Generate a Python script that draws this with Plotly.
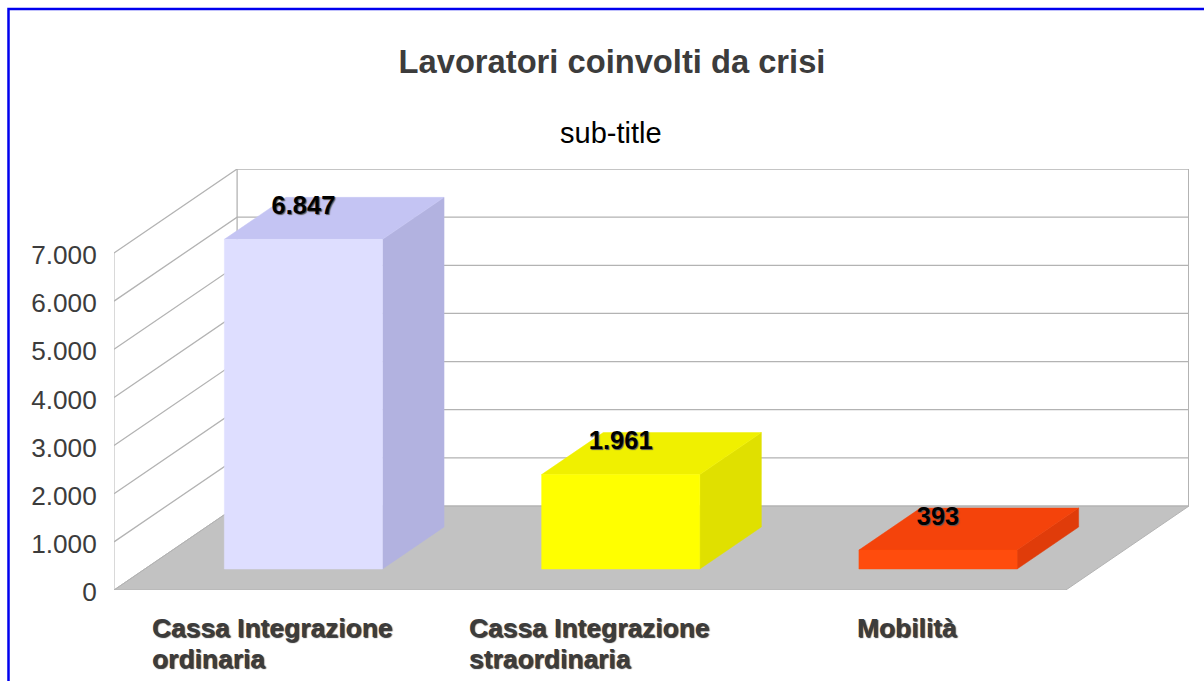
import plotly.graph_objects as go

# data
categories = [["Cassa Integrazione", "ordinaria"], ["Cassa Integrazione", "straordinaria"], ["Mobilità"]]
values = [6847, 1961, 393]
value_labels = ["6.847", "1.961", "393"]
y_ticks = [0, 1000, 2000, 3000, 4000, 5000, 6000, 7000]
title = "Lavoratori coinvolti da crisi"
subtitle = "sub-title"

front_colors = ["#dedeff", "#ffff00", "#ff4c0d"]
top_colors = ["#c4c4f3", "#f0f000", "#f4430b"]
side_colors = ["#b2b2e0", "#e0e000", "#e03c0a"]

# page geometry (pixels)
W, H = 1204, 681
L, R, T, B = 114, 1189, 169, 590
PX_PER_UNIT_Y = (589 - 252) / 7000
BAND_PX = 317
DEPTH_X = 123 / BAND_PX          # oblique shift in x units
DEPTH_Y = 84 / PX_PER_UNIT_Y     # oblique shift in y units
BAR_W = 158 / BAND_PX
N = len(values)
GRID = "#b3b3b3"
TEXT = "#3c3c3c"
FONT = "Liberation Sans"

fig = go.Figure()


def poly(xs, ys, fill, line=None, width=1):
    fig.add_trace(go.Scatter(
        x=list(xs) + [xs[0]], y=list(ys) + [ys[0]], mode="lines", fill="toself",
        fillcolor=fill, line=dict(color=line or fill, width=width),
        hoverinfo="skip", showlegend=False, cliponaxis=False))


def path(xs, ys, width=1.2):
    fig.add_trace(go.Scatter(
        x=xs, y=ys, mode="lines", line=dict(color=GRID, width=width),
        hoverinfo="skip", showlegend=False, cliponaxis=False))


top_v = y_ticks[-1]
# floor
poly([0, N, N + DEPTH_X, DEPTH_X], [0, 0, DEPTH_Y, DEPTH_Y], "#c2c2c2", GRID, 1)
# grid lines on the two walls
for v in y_ticks:
    path([0, DEPTH_X, N + DEPTH_X], [v, v + DEPTH_Y, v + DEPTH_Y], 1.3 if v else 1)
path([0, 0], [0, top_v], 1)
path([DEPTH_X, DEPTH_X], [DEPTH_Y, top_v + DEPTH_Y], 1.3)
path([N + DEPTH_X, N + DEPTH_X], [DEPTH_Y, top_v + DEPTH_Y], 2)

# bars
for i, v in enumerate(values):
    x0 = i + 0.5 - BAR_W / 2 + DEPTH_X / 4
    x1 = x0 + BAR_W
    y0 = DEPTH_Y / 4
    y1 = y0 + v
    dx, dy = DEPTH_X / 2, DEPTH_Y / 2
    poly([x1, x1 + dx, x1 + dx, x1], [y0, y0 + dy, y1 + dy, y1], side_colors[i], width=0.5)
    poly([x0, x1, x1 + dx, x0 + dx], [y1, y1, y1 + dy, y1 + dy], top_colors[i], width=0.5)
    poly([x0, x1, x1, x0], [y0, y0, y1, y1], front_colors[i], width=0.5)

# value labels
fig.add_trace(go.Scatter(
    x=[i + 0.5 + DEPTH_X / 4 for i in range(N)],
    y=[v + DEPTH_Y / 4 + 31.5 / PX_PER_UNIT_Y for v in values],
    mode="text", text=value_labels, textposition="middle center",
    textfont=dict(family=FONT, size=25.5, color="#000000", weight="bold",
                  shadow="1px 1px 1px #555555"),
    hoverinfo="skip", showlegend=False, cliponaxis=False))

annotations = []
# category labels: left-aligned lines, block centred on the band
block_w = [240, 240, 99]
for i, lines in enumerate(categories):
    for k, line in enumerate(lines):
        annotations.append(dict(
            x=i + 0.5, xref="x", xanchor="left", xshift=-block_w[i] / 2 - 3,
            y=-(38 + 31 * k) / (B - T), yref="paper", yanchor="middle",
            text=line, showarrow=False, align="left",
            font=dict(family=FONT, size=26.4, color=TEXT, weight="bold",
                      shadow="1px 1px 1px #333333")))
# subtitle
annotations.append(dict(
    x=(611 - L) / (R - L), xref="paper", xanchor="center",
    y=(B - 132.5) / (B - T), yref="paper", yanchor="middle",
    text=subtitle, showarrow=False,
    font=dict(family=FONT, size=29, color="#000000")))

# blue frame of the picture
frame = dict(
    type="path", xref="paper", yref="paper",
    path="M %.5f %.5f L %.5f %.5f L %.5f %.5f" % (
        (8.5 - L) / (R - L), (B - H - 5) / (B - T),
        (8.5 - L) / (R - L), (B - 9) / (B - T),
        (W + 5 - L) / (R - L), (B - 9) / (B - T)),
    line=dict(color="#0000ee", width=2.5))

fig.update_layout(
    width=W, height=H, autosize=False,
    margin=dict(l=L, r=W - R, t=T, b=H - B, pad=0),
    paper_bgcolor="#ffffff", plot_bgcolor="#ffffff",
    separators=",.",
    title=dict(text=title, x=(612 - 0) / W, xref="container", xanchor="center",
               y=1 - 62 / H, yref="container", yanchor="middle",
               font=dict(family=FONT, size=32.7, color=TEXT, weight="bold")),
    xaxis=dict(range=[0, N + DEPTH_X], visible=False, showgrid=False, zeroline=False, fixedrange=True),
    yaxis=dict(range=[0, top_v + DEPTH_Y], showgrid=False, zeroline=False, showline=False,
               tickmode="array", tickvals=y_ticks, tickformat=",d",
               ticks="outside", ticklen=11, tickcolor="rgba(0,0,0,0)", ticklabelshift=2,
               tickfont=dict(family=FONT, size=26.2, color=TEXT), fixedrange=True),
    annotations=annotations, shapes=[frame],
)

fig.write_html("out.html", config=dict(displayModeBar=False),
               post_script="document.body.style.margin='0';document.body.style.overflow='hidden';")
